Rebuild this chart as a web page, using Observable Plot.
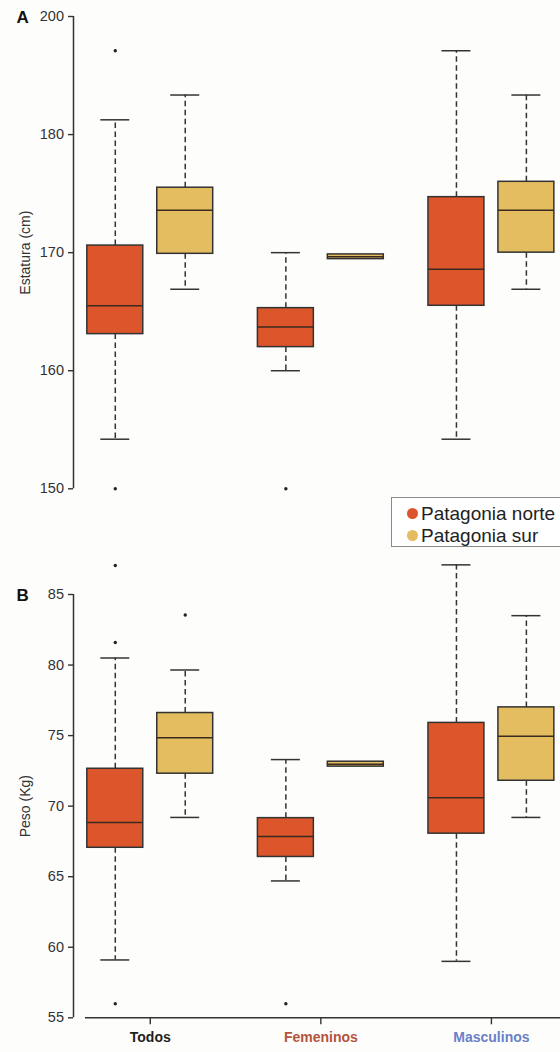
<!DOCTYPE html>
<html><head><meta charset="utf-8">
<script src="https://cdn.jsdelivr.net/npm/d3@7"></script>
<script src="https://cdn.jsdelivr.net/npm/@observablehq/plot@0.6"></script>
<style>
body{margin:0;background:#fdfdfb;font-family:Arial,"Liberation Sans",sans-serif;overflow:hidden}
#wrap{position:relative;width:560px;height:1052px;overflow:hidden}
#chartA{position:absolute;left:0;top:0}
#chartB{position:absolute;left:0;top:548px}
#legend{position:absolute;left:391px;top:497px;width:200px;height:48px;border:1px solid #8a8a8a;background:#fff;font-size:19px;color:#222}
#legend .row{position:absolute;left:0;height:22px;line-height:22px;white-space:nowrap}
#legend .sw{position:absolute;left:15px;top:5.5px;width:11px;height:11px;border-radius:50%}
#legend .lb{position:absolute;left:29px;top:0}
</style></head>
<body>
<div id="wrap">
  <div id="chartA"></div>
  <div id="legend"></div>
  <div id="chartB"></div>
</div>
<script>
const groups = ["Todos", "Femeninos", "Masculinos"];
const groupColors = ["#1e1e1e", "#b5533c", "#6b80c8"];
const regions = ["Patagonia norte", "Patagonia sur"];
const regionColors = ["#dd562b", "#e3bd5f"];

// boxes: Todos-norte, Todos-sur, Femeninos-norte, Femeninos-sur, Masculinos-norte, Masculinos-sur
const boxGroup  = ["Todos", "Todos", "Femeninos", "Femeninos", "Masculinos", "Masculinos"];
const boxRegion = ["Patagonia norte", "Patagonia sur", "Patagonia norte", "Patagonia sur", "Patagonia norte", "Patagonia sur"];

// Panel A: Estatura (cm)
const estaturaLow    = [154.2, 166.9, 160.0, 169.45, 154.2, 166.9];
const estaturaQ1     = [163.1, 169.9, 162.0, 169.45, 165.5, 170.0];
const estaturaMedian = [165.5, 173.6, 163.7, 169.65, 168.6, 173.6];
const estaturaQ3     = [170.6, 175.5, 165.3, 169.85, 174.7, 176.0];
const estaturaHigh   = [182.5, 186.7, 170.0, 169.85, 194.2, 186.7];
const estaturaOutGroup  = ["Todos", "Todos", "Femeninos"];
const estaturaOutRegion = ["Patagonia norte", "Patagonia norte", "Patagonia norte"];
const estaturaOutValue  = [194.2, 150.0, 150.0];
const estaturaTicks = [150, 160, 170, 180, 200];

// Panel B: Peso (Kg)
const pesoLow    = [59.1, 69.2, 64.7, 72.8, 59.0, 69.2];
const pesoQ1     = [67.05, 72.3, 66.4, 72.8, 68.05, 71.8];
const pesoMedian = [68.85, 74.85, 67.85, 72.97, 70.6, 74.95];
const pesoQ3     = [72.65, 76.6, 69.15, 73.15, 75.9, 77.0];
const pesoHigh   = [80.5, 79.65, 73.3, 73.15, 87.1, 83.5];
const pesoOutGroup  = ["Todos", "Todos", "Todos", "Todos", "Femeninos"];
const pesoOutRegion = ["Patagonia norte", "Patagonia norte", "Patagonia norte", "Patagonia sur", "Patagonia norte"];
const pesoOutValue  = [87.05, 81.6, 56.0, 83.55, 56.0];
const pesoTicks = [55, 60, 65, 70, 75, 80, 85];

function buildRows(low, q1, med, q3, high) {
  return boxGroup.map((g, i) => ({group: g, region: boxRegion[i], low: low[i], q1: q1[i], median: med[i], q3: q3[i], high: high[i]}));
}
function buildOut(g, r, v) {
  return g.map((gg, i) => ({group: gg, region: r[i], value: v[i]}));
}

// Panel A's axis is broken: 180–200 occupies the same length as a 10 cm step
const warpA = v => v <= 180 ? v : 180 + (v - 180) / 2;
const unwarpA = u => u <= 180 ? u : 180 + (u - 180) * 2;
const ident = v => v;

const OFF = 0.205, HALF = 0.164, CAP = 0.085;
const xPos = d => groups.indexOf(d.group) + 1 + (d.region === regions[0] ? -OFF : OFF);
const fillOf = d => regionColors[regions.indexOf(d.region)];
const INK = "#333";

function boxMarks(rows, outs, w) {
  const whisk = rows.filter(d => d.high > d.q3 || d.low < d.q1);
  const f = k => d => w(d[k]);
  return [
    Plot.ruleX(whisk, {x: xPos, y1: f("q3"), y2: f("high"), stroke: INK, strokeWidth: 1.5, strokeDasharray: "5.5,3.5"}),
    Plot.ruleX(whisk, {x: xPos, y1: f("q1"), y2: f("low"), stroke: INK, strokeWidth: 1.5, strokeDasharray: "5.5,3.5"}),
    Plot.ruleY(whisk, {y: f("high"), x1: d => xPos(d) - CAP, x2: d => xPos(d) + CAP, stroke: INK, strokeWidth: 1.5}),
    Plot.ruleY(whisk, {y: f("low"), x1: d => xPos(d) - CAP, x2: d => xPos(d) + CAP, stroke: INK, strokeWidth: 1.5}),
    Plot.rect(rows, {x1: d => xPos(d) - HALF, x2: d => xPos(d) + HALF, y1: f("q1"), y2: f("q3"), fill: fillOf, stroke: INK, strokeWidth: 1.5}),
    Plot.ruleY(rows, {y: f("median"), x1: d => xPos(d) - HALF, x2: d => xPos(d) + HALF, stroke: "#3a2a20", strokeWidth: 1.5}),
    Plot.dot(outs, {x: xPos, y: f("value"), r: 1.7, fill: "#222", stroke: null})
  ];
}

const common = {
  width: 560, marginLeft: 73, marginRight: 0,
  color: {type: "identity"},
  style: {fontFamily: "Arial, 'Liberation Sans', sans-serif", fontSize: "14px", color: "#333", background: "transparent", overflow: "visible"}
};

const rowsA = buildRows(estaturaLow, estaturaQ1, estaturaMedian, estaturaQ3, estaturaHigh);
const outA = buildOut(estaturaOutGroup, estaturaOutRegion, estaturaOutValue);
const chartA = Plot.plot({
  ...common,
  height: 495, marginTop: 16, marginBottom: 6.7,
  x: {domain: [0.55, 3.405], axis: null},
  y: {domain: [warpA(150), warpA(200)], range: [488.3, 16]},
  marks: [
    Plot.axisY({ticks: estaturaTicks.map(warpA), tickFormat: u => String(unwarpA(u)), tickSize: 5, tickPadding: 4.5, fontSize: 14.5, label: null, strokeWidth: 1.4}),
    Plot.ruleX([0.55], {y1: warpA(150), y2: warpA(200), stroke: INK, strokeWidth: 1.5}),
    ...boxMarks(rowsA, outA, warpA),
    Plot.text(["Estatura (cm)"], {frameAnchor: "left", rotate: -90, dx: -48, textAnchor: "middle", lineAnchor: "middle", fontSize: 14, fill: "#333"}),
    Plot.text(["A"], {frameAnchor: "top-left", dx: -57, dy: 1.5, textAnchor: "start", lineAnchor: "middle", fontWeight: "bold", fontSize: 17, fill: "#111"})
  ]
});
document.getElementById("chartA").append(chartA);

const rowsB = buildRows(pesoLow, pesoQ1, pesoMedian, pesoQ3, pesoHigh);
const outB = buildOut(pesoOutGroup, pesoOutRegion, pesoOutValue);
const chartB = Plot.plot({
  ...common,
  height: 504, marginTop: 46, marginBottom: 34.7,
  x: {domain: [0.55, 3.405]},
  y: {domain: [55, 85], range: [469.3, 46]},
  marks: [
    Plot.axisY({ticks: pesoTicks, tickSize: 5, tickPadding: 4.5, fontSize: 14.5, label: null, strokeWidth: 1.4}),
    Plot.axisX({ticks: [1, 2, 3], tickSize: 7, tickFormat: () => "", label: null, strokeWidth: 1.4}),
    Plot.ruleX([0.55], {y1: 55, y2: 85, stroke: INK, strokeWidth: 1.5}),
    Plot.ruleY([55], {x1: 0.62, x2: 3.405, stroke: INK, strokeWidth: 1.5}),
    ...boxMarks(rowsB, outB, ident),
    Plot.text(groups, {x: (d, i) => i + 1, frameAnchor: "bottom", dy: 20, lineAnchor: "middle", fill: (d, i) => groupColors[i], fontWeight: "bold", fontSize: 14}),
    Plot.text(["Peso (Kg)"], {frameAnchor: "left", rotate: -90, dx: -48, textAnchor: "middle", lineAnchor: "middle", fontSize: 14, fill: "#333"}),
    Plot.text(["B"], {frameAnchor: "top-left", dx: -57, dy: 1.5, textAnchor: "start", lineAnchor: "middle", fontWeight: "bold", fontSize: 17, fill: "#111"})
  ]
});
document.getElementById("chartB").append(chartB);

const legend = document.getElementById("legend");
regions.forEach((r, i) => {
  const row = document.createElement("div");
  row.className = "row";
  row.style.top = (4.5 + i * 22) + "px";
  row.innerHTML = `<span class="sw" style="background:${regionColors[i]}"></span><span class="lb">${r}</span>`;
  legend.append(row);
});
</script>
</body></html>
